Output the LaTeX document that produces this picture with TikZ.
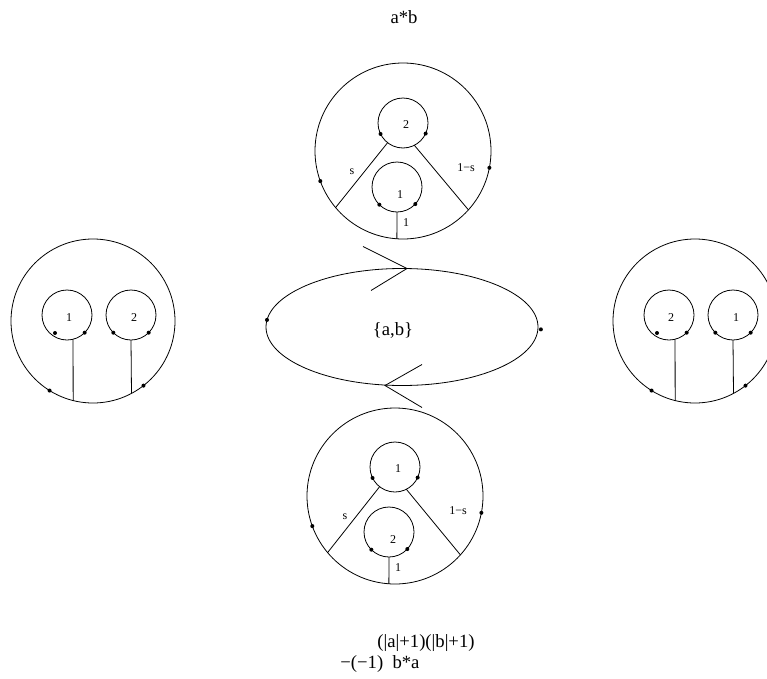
\documentclass[tikz,border=0pt]{standalone}
\usepackage{fontspec}
\setmainfont{Liberation Serif}
\usetikzlibrary{shapes.geometric}
\usetikzlibrary{calc}

\begin{document}
\begin{tikzpicture}[x=0.75pt,y=-0.75pt,line width=0.6pt,
		big/.style={circle,draw,minimum size=132pt,inner sep=0pt,outer sep=0pt},
		side/.style={circle,draw,minimum size=123pt,inner sep=0pt,outer sep=0pt},
		small/.style={circle,draw,minimum size=37.5pt,inner sep=0pt,outer sep=0pt},
		dot/.style={circle,fill,inner sep=0pt,minimum size=3pt},
		num/.style={font=\fontsize{9}{10}\selectfont,inner sep=0pt},
		txt/.style={font=\fontsize{14}{16}\selectfont,inner sep=0pt}]
		\useasboundingbox (0,0) rectangle (767,678);
		% titles
		\path (404,17) node(ab)[txt]{a*b}
		(426,643) node(sgn)[txt]{(|a|+1)(|b|+1)}
		(340,664) node(ba)[txt,anchor=west]{−(−1)~~b*a};
		% left picture
		\path (93,321) node(L)[side]{}
		(67,315) node(L1)[small]{}
		(131,315) node(L2)[small]{};
		\path (69,318) node(L1n)[num]{1}
		(134,318) node(L2n)[num]{2};
		\draw (L1.-76) -- (L.-104);
		\draw (L2.-90) -- (L.-62);
		\path ($(L1)+(-12,18)$) node(L1a)[dot]{}
		(L1.-45) node(L1b)[dot]{}
		(L2.-135) node(L2a)[dot]{}
		(L2.-45) node(L2b)[dot]{}
		(L.-122) node(La)[dot]{}
		(L.-52) node(Lb)[dot]{};
		% right picture
		\path (695,321) node(R)[side]{}
		(669,315) node(R2)[small]{}
		(733,315) node(R1)[small]{};
		\path (671,318) node(R2n)[num]{2}
		(736,318) node(R1n)[num]{1};
		\draw (R2.-76) -- (R.-104);
		\draw (R1.-90) -- (R.-62);
		\path ($(R2)+(-12,18)$) node(R2a)[dot]{}
		(R2.-45) node(R2b)[dot]{}
		(R1.-135) node(R1a)[dot]{}
		(R1.-45) node(R1b)[dot]{}
		(R.-122) node(Ra)[dot]{}
		(R.-52) node(Rb)[dot]{};
		% top picture
		\path (403,151) node(T)[big]{}
		(403,123) node(T2)[small]{}
		(397,187) node(T1)[small]{};
		\path (406,125) node(T2n)[num]{2}
		(400,195) node(T1n)[num]{1}
		(352,172) node(Ts)[num]{s}
		(466,168) node(Tr)[num]{1−s}
		(406,223) node(To)[num]{1};
		\draw (T2.-128) -- (T.-140);
		\draw (T2.-63) -- (T.-42);
		\draw (T1.-90) -- (T.-94);
		\path (T2.-154) node(T2a)[dot]{}
		(T2.-25) node(T2b)[dot]{}
		(T1.-135) node(T1a)[dot]{}
		(T1.-43) node(T1b)[dot]{}
		(T.-160) node(Ta)[dot]{}
		(T.-11) node(Tb)[dot]{};
		% bottom picture
		\path (395,496) node(B)[big]{}
		(395,467) node(B1)[small]{}
		(389,532) node(B2)[small]{};
		\path (398,469) node(B1n)[num]{1}
		(393,540) node(B2n)[num]{2}
		(345,517) node(Bs)[num]{s}
		(458,511) node(Br)[num]{1−s}
		(398,568) node(Bo)[num]{1};
		\draw (B1.-128) -- (B.-140);
		\draw (B1.-63) -- (B.-42);
		\draw (B2.-90) -- (B.-94);
		\path (B1.-154) node(B1a)[dot]{}
		(B1.-25) node(B1b)[dot]{}
		(B2.-135) node(B2a)[dot]{}
		(B2.-43) node(B2b)[dot]{}
		(B.-160) node(Ba)[dot]{}
		(B.-11) node(Bb)[dot]{};
		% the loop
		\path (402,327) node(E)[ellipse,draw,minimum width=204pt,minimum height=87.75pt,inner sep=0pt,outer sep=0pt]{}
		(393,330) node(set)[txt]{\{a,b\}};
		\path (E.177.5) node(Ea)[dot]{}
		($(E.-1)+(3,0)$) node(Eb)[dot]{};
		\draw ($(E.north)+(-39,-22)$) -- ($(E.north)+(5,0)$) -- ($(E.north)+(-31,22)$);
		\draw ($(E.south)+(20,-21)$) -- ($(E.south)+(-17,0)$) -- ($(E.south)+(20,22)$);
	\end{tikzpicture}
\end{document}
